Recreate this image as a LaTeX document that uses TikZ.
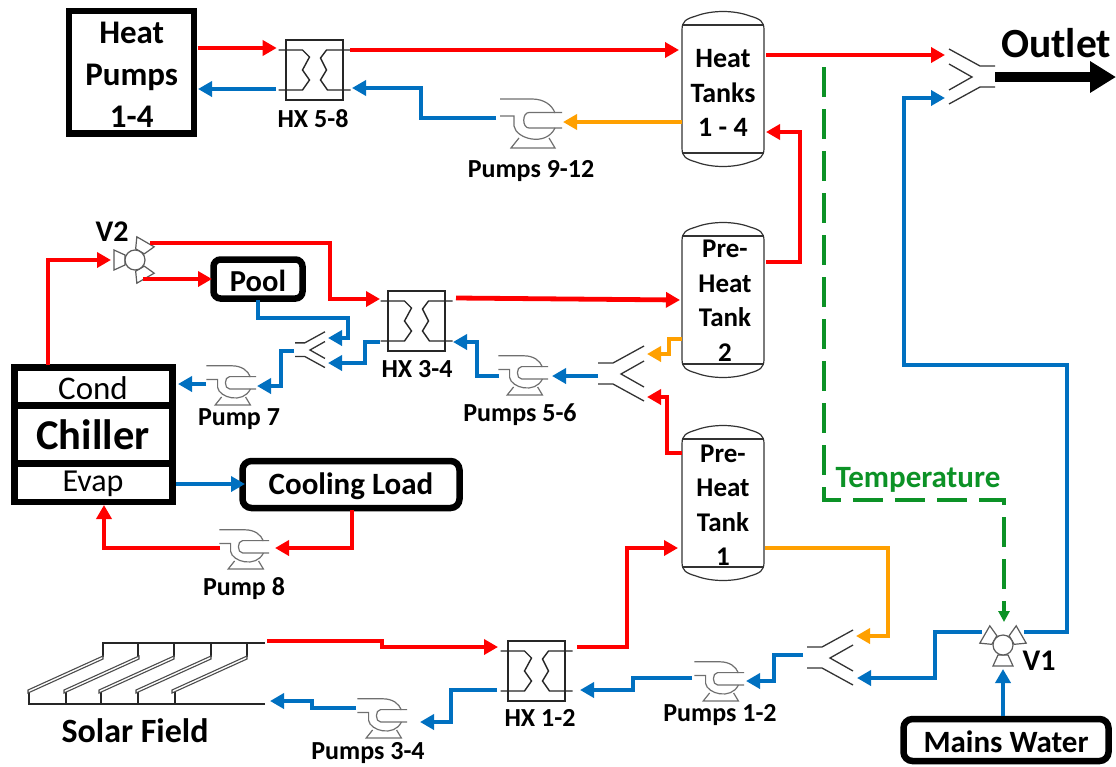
\documentclass[tikz,border=0pt]{standalone}
\usepackage{fontspec}
\setmainfont{Carlito}
\usetikzlibrary{arrows.meta}
\definecolor{cred}{HTML}{FF0000}
\definecolor{cblue}{HTML}{0070C0}
\definecolor{corange}{HTML}{FFA000}
\definecolor{cgreen}{HTML}{0C9226}
\definecolor{csym}{HTML}{333333}
\tikzset{
  x=1pt,y=-1pt,
  pipe/.style={line width=4.8pt,line join=miter,-{Triangle[length=14pt,width=15pt]}},
  redp/.style={pipe,draw=cred},
  bluep/.style={pipe,draw=cblue},
  orangep/.style={pipe,draw=corange},
  heavy box/.style={draw=black,line width=6.5pt,fill=white,inner sep=0pt},
  lbl/.style={font=\bfseries,inner sep=0pt,align=center},
  small lbl/.style={lbl,font=\bfseries\fontsize{26}{28}\selectfont},
  sym/.style={draw=csym,line width=1.3pt},
  pump/.pic={
    \draw[draw=csym!70,line width=1.2pt] (-32,-24)--(0,-24) .. controls (12,-24) and (20,-18) .. (23,-10);
    \draw[draw=csym!70,line width=1.2pt] (30,-10.5)--(-3,-10.5) .. controls (-10,-10.5) and (-10,5) .. (-3,5)--(30,5);
    \draw[draw=csym!70,line width=1.2pt] (-32,-7)--(-18,-7)--(-18,3) .. controls (-16,16) and (14,24) .. (23,5);
    \draw[draw=csym!70,line width=1.2pt] (-13,15)--(-21,25)--(23,25)--(17,15);
  },
  hx/.pic={
    \draw[draw=black!85,line width=1.4pt] (-28.5,-30) rectangle (28.5,30);
    \draw[draw=black!85,line width=1.4pt] (-36,-20)--(-12,-20)--(-5,-13)--(-12,0)--(-5,10)--(-12,20)--(-36,20);
    \draw[draw=black!85,line width=1.4pt] (36,-20)--(12,-20)--(6,-12)--(12,0)--(6,10)--(13,20)--(36,20);
  },
  merge/.pic={
    \draw[sym] (23,-28)--(-8,-11)--(-23,-11);
    \draw[sym] (23,27)--(-8,10)--(-23,10);
    \draw[sym] (23,-13)--(0,0)--(23,13);
  },
  tank/.pic={
    \draw[draw=csym,line width=1.2pt,fill=white] (0,20) .. controls (0,11) and (4,9) .. (14,6) .. controls (30,0) and (52,0) .. (68,6) .. controls (78,9) and (82,11) .. (82,20) -- (82,138) .. controls (82,147) and (78,149) .. (68,152) .. controls (52,158) and (30,158) .. (14,152) .. controls (4,149) and (0,147) .. (0,138) -- cycle;
    \draw[draw=csym,line width=1.2pt] (1,15)--(81,15) (1,143)--(81,143);
  },
}
\newcommand{\vport}{\draw[draw=csym!80,line width=1.2pt,fill=white] (-5,10)--(5,10)--(10,21)--(-10,21)--cycle;}
\begin{document}
\begin{tikzpicture}
\useasboundingbox[fill=white] (0,0) rectangle (1116,766);

% ---- boxes
\node[heavy box,minimum width=125pt,minimum height=122.5pt] (hp) at (131.7,72.3) {};
\node[lbl,font=\bfseries\fontsize{33}{42}\selectfont] (hptxt) at (131.7,74.5) {Heat\\Pumps\\1-4};
\node[heavy box,rounded corners=7pt,minimum width=89pt,minimum height=39pt] (pool) at (258,279) {};
\node[lbl,font=\bfseries\fontsize{30.5}{32}\selectfont] (pooltxt) at (258,281) {Pool};
\node[heavy box,rounded corners=9pt,minimum width=217pt,minimum height=47pt] (cool) at (351,484.5) {};
\node[lbl,font=\bfseries\fontsize{31}{34}\selectfont] (cooltxt) at (351,486.5) {Cooling Load};
\node[heavy box,rounded corners=9pt,minimum width=205pt,minimum height=42pt] (mains) at (1006,740) {};
\node[lbl,font=\bfseries\fontsize{31}{34}\selectfont] (mainstxt) at (1006,741.5) {Mains Water};

% ---- chiller
\node[heavy box,minimum width=158.3pt,minimum height=134.7pt] (chiller) at (93.4,434.8) {};
\draw[black,line width=6.8pt] (chiller.west |- 0,405.8)--(chiller.east |- 0,405.8) (chiller.west |- 0,463.5)--(chiller.east |- 0,463.5);
\node[inner sep=0pt,font=\fontsize{33}{36}\selectfont] (cond) at (93,388) {Cond};
\node[inner sep=0pt,font=\bfseries\fontsize{42.5}{46}\selectfont] (chilltxt) at (93,435) {Chiller};
\node[inner sep=0pt,font=\fontsize{32}{36}\selectfont] (evap) at (93,484) {Evap};

% ---- tanks
\pic at (682,10) {tank};
\pic at (682,221) {tank};
\pic at (682,424) {tank};
\node[lbl,font=\bfseries\fontsize{28}{34.5}\selectfont] (t3) at (723,93) {Heat\\Tanks\\1 - 4};
\node[lbl,font=\bfseries\fontsize{27}{34.5}\selectfont] (t2) at (725,300.5) {Pre-\\Heat\\Tank\\2};
\node[lbl,font=\bfseries\fontsize{27}{34.5}\selectfont] (t1) at (723,505) {Pre-\\Heat\\Tank\\1};

% ---- heat exchangers
\pic at (314.5,70) {hx};
\pic at (416.5,321) {hx};
\pic at (536.5,671) {hx};

% ---- pumps
\pic at (532,123) {pump};
\pic[scale=.8] at (232,385) {pump};
\pic[scale=.8] at (524,375) {pump};
\pic[scale=.8] at (245,549) {pump};
\pic[scale=.8] at (383,718) {pump};
\pic[scale=.8] at (720,681) {pump};

% ---- merges
\pic at (830,658) {merge};
\pic at (621,374) {merge};
\pic[scale=.65] at (310,350) {merge};
\pic[xscale=-1] at (972,77) {merge};

% ---- valves
\foreach \a in {0,120,240} {\begin{scope}[shift={(1003,645)},rotate=\a]\vport\end{scope}}
\draw[draw=csym!80,line width=1.2pt,fill=white] (1003,645) circle (10pt);
\foreach \a in {-90,30,150} {\begin{scope}[shift={(135,260)},rotate=\a]\vport\end{scope}}
\draw[draw=csym!80,line width=1.2pt,fill=white] (135,260) circle (10pt);
\node[lbl,font=\bfseries\fontsize{30}{32}\selectfont] (v1) at (1039,661) {V1};
\node[lbl,font=\bfseries\fontsize{30}{32}\selectfont] (v2) at (112,232) {V2};

% ---- solar field
\draw[black!85,line width=1.6pt] (265,643)--(103,643)--(103,657);
\foreach \x in {138,174,211,247} {\draw[black!85,line width=1.6pt] (\x,643)--(\x,657);}
\draw[black!85,line width=1.6pt] (265,704)--(29,704)--(29,692);
\foreach \x in {66,101,138,175} {\draw[black!85,line width=1.6pt] (\x,704)--(\x,692);}
\foreach \x in {0,36,71,108,144} {
  \draw[black!70,line width=1.1pt,fill=white] (103+\x,656)--(28+\x,690)--(28+\x,693)--(103+\x,659)--cycle;}

% ---- labels
\node[small lbl] (l1) at (313,118.5) {HX 5-8};
\node[small lbl] (l2) at (531,171.5) {Pumps 9-12};
\node[small lbl] (l3) at (239,419.5) {Pump 7};
\node[small lbl] (l4) at (417,369.5) {HX 3-4};
\node[small lbl] (l5) at (520,414.5) {Pumps 5-6};
\node[small lbl] (l6) at (244,588.5) {Pump 8};
\node[small lbl] (l7) at (540,717.5) {HX 1-2};
\node[small lbl] (l8) at (720,715.5) {Pumps 1-2};
\node[small lbl] (l9) at (368,753.5) {Pumps 3-4};
\node[lbl,font=\bfseries\fontsize{34}{38}\selectfont] (l10) at (135,730.5) {Solar Field};
\node[lbl,font=\bfseries\fontsize{41.5}{44}\selectfont] (outtxt) at (1056,43) {Outlet};
\node[lbl,font=\bfseries\fontsize{31}{34}\selectfont,text=cgreen] (temp) at (918,479.5) {Temperature};

% ---- connector ends
\coordinate (hpA) at (197.7,48);   \coordinate (hx58Ain) at (276.7,48);
\coordinate (hpB) at (198,89);   \coordinate (hx58Bo) at (276,89);
\coordinate (hx58Ao) at (350,50); \coordinate (tk3in) at (679,50);
\coordinate (hx58Bin) at (352,88); \coordinate (p912o) at (496,118);
\coordinate (tk3o) at (682,122); \coordinate (p912i) at (563,122);
\coordinate (tk3h) at (766,55); \coordinate (mOa) at (945,55);
\coordinate (mOb) at (945,98);
\coordinate (chU) at (48,365); \coordinate (v2i) at (111,260);
\coordinate (v2a) at (150,243); \coordinate (hx34in) at (380,299);
\coordinate (v2b) at (143,279); \coordinate (pooli) at (212,279);
\coordinate (hx34o) at (456,298); \coordinate (tk2in) at (680,300);
\coordinate (poolo) at (258,300); \coordinate (mPa) at (328,338);
\coordinate (hx34b) at (380,342); \coordinate (mPb) at (328,363);
\coordinate (mPo) at (294,351); \coordinate (p7i) at (257,386);
\coordinate (p7o) at (206,384); \coordinate (cho) at (178,384);
\coordinate (p56o) at (499,376); \coordinate (hx34bi) at (453,342);
\coordinate (mHo) at (598,376); \coordinate (p56i) at (552,376);
\coordinate (tk2o) at (682,339); \coordinate (mHa) at (647,354);
\coordinate (tk1o) at (682,453); \coordinate (mHb) at (647,397);
\coordinate (tk2r) at (766,262); \coordinate (tk3r) at (766,132);
\coordinate (evo) at (176,484); \coordinate (cooli) at (245,484);
\coordinate (coolo) at (352,510); \coordinate (p8i) at (275,548);
\coordinate (p8o) at (220,548); \coordinate (evi) at (104,505);
\coordinate (solA) at (267,641); \coordinate (hx12i) at (498,647);
\coordinate (hx12o) at (577,647); \coordinate (tk1in) at (678,548);
\coordinate (hx12b) at (497,690); \coordinate (p34i) at (420,722);
\coordinate (p34o) at (356,708); \coordinate (solB) at (270,701);
\coordinate (p12o) at (692,678); \coordinate (hx12bi) at (580,690);
\coordinate (mSo) at (803,655); \coordinate (p12i) at (746,681);
\coordinate (tk1r) at (765,548); \coordinate (mSa) at (856,636);
\coordinate (v1l) at (982,632); \coordinate (mSb) at (857,678);
\coordinate (mainsU) at (1003,716); \coordinate (v1i) at (1003,669);
\coordinate (v1r) at (1024,632); \coordinate (mOsrc) at (995,77);
\coordinate (outEnd) at (1116,77);
\coordinate (tapg) at (824,67); \coordinate (v1g) at (1004,622);

% ---- red
\draw[redp] (hpA)--(hx58Ain);
\draw[redp] (hx58Ao)--(tk3in);
\draw[redp] (tk3h)--(mOa);
\draw[redp] (chU)|-(v2i);
\draw[redp] (v2a)--(330,243)|-(hx34in);
\draw[redp] (v2b)--(pooli);
\draw[redp] (hx34o)--(tk2in);
\draw[redp] (tk2r)--(800,262)|-(tk3r);
\draw[redp] (tk1o)--(667,453)|-(mHb);
\draw[redp] (coolo)|-(p8i);
\draw[redp] (p8o)-|(evi);
\draw[redp] (solA)--(382,641)--(382,647)--(hx12i);
\draw[redp] (hx12o)--(627,647)|-(tk1in);

% ---- blue
\draw[bluep] (hx58Bo)--(hpB);
\draw[bluep] (p912o)--(421,118)|-(hx58Bin);
\draw[bluep] (poolo)--(258,318)--(348,318)|-(mPa);
\draw[bluep] (hx34b)--(365,342)|-(mPb);
\draw[bluep] (mPo)--(281,351)|-(p7i);
\draw[bluep] (p7o)--(cho);
\draw[bluep] (p56o)--(477,376)|-(hx34bi);
\draw[bluep] (mHo)--(p56i);
\draw[bluep] (evo)--(cooli);
\draw[bluep] (hx12b)--(451,690)|-(p34i);
\draw[bluep] (p34o)--(312,708)|-(solB);
\draw[bluep] (p12o)--(633,678)|-(hx12bi);
\draw[bluep] (mSo)--(774,655)|-(p12i);
\draw[bluep] (v1l)--(935,632)|-(mSb);
\draw[bluep] (mainsU)--(v1i);
\draw[bluep] (v1r)--(1067,632)--(1067,365)--(904,365)|-(mOb);

% ---- orange
\draw[orangep] (tk3o)--(p912i);
\draw[orangep] (tk2o)--(669,339)|-(mHa);
\draw[orangep] (tk1r)--(888,548)|-(mSa);

% ---- outlet
\draw[line width=10pt,-{Triangle[length=26pt,width=30pt]}] (mOsrc)--(outEnd);

% ---- control
\draw[draw=cgreen,line width=3.3pt,dash pattern=on 30pt off 12pt,-{Triangle[length=11pt,width=11pt]}] (tapg)--(824,500)--(1004,500)--(v1g);
\end{tikzpicture}
\end{document}
